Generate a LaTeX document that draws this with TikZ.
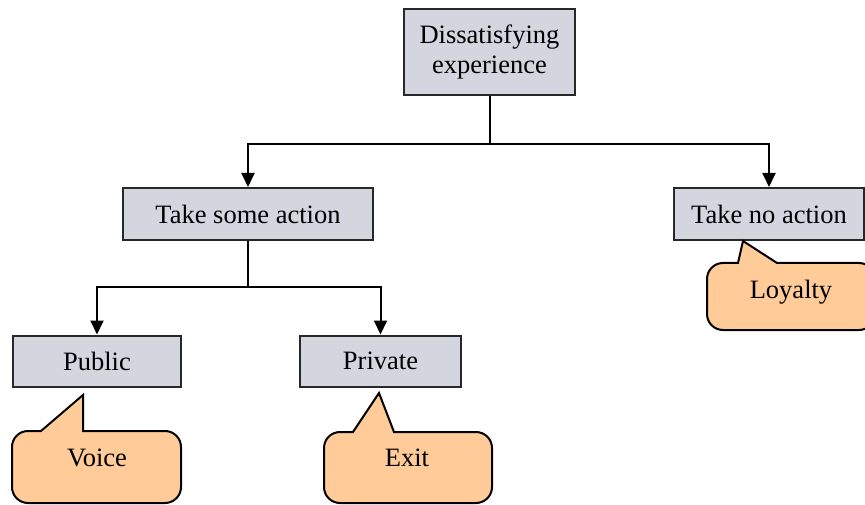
\documentclass[tikz,border=0pt]{standalone}
\usepackage{fontspec}
\setmainfont{Liberation Serif}
\usetikzlibrary{arrows.meta}
\definecolor{boxfill}{RGB}{211,213,223}
\definecolor{boxline}{RGB}{40,40,40}
\definecolor{bubble}{RGB}{255,204,153}
\tikzset{
  stage/.style={draw=boxline, line width=2pt, fill=boxfill, inner sep=0pt,
    align=center, font=\fontsize{26.5}{30}\selectfont},
  link/.style={line width=2pt, draw=black},
  linkarrow/.style={link, -{Triangle[length=14pt,width=13pt]}},
  callout/.style={draw=black, line width=2pt, fill=bubble, line join=miter},
  calltext/.style={inner sep=0pt, font=\fontsize{26.5}{30}\selectfont}
}
\begin{document}
\begin{tikzpicture}[x=1pt,y=-1pt]
\useasboundingbox (0,0) rectangle (865,505);
\clip (0,0) rectangle (865,505);

% decision boxes
\node[stage, minimum width=171pt, minimum height=86pt] (dis) at (489.5,52) {Dissatisfying\\experience};
\node[stage, minimum width=250pt, minimum height=52pt] (some) at (248,214) {Take some action};
\node[stage, minimum width=190pt, minimum height=52pt] (none) at (769,214) {Take no action};
\node[stage, minimum width=168pt, minimum height=51pt] (pub) at (97,361) {Public};
\node[stage, minimum width=161pt, minimum height=51pt] (priv) at (380.5,361) {Private};

% connectors
\coordinate (j1) at (489.5,144);
\coordinate (j2) at (248,287);
\draw[link] (dis.south) -- (j1);
\draw[linkarrow] (j1) -| (some.north);
\draw[linkarrow] (j1) -| (none.north);
\draw[link] (some.south) -- (j2);
\draw[linkarrow] (j2) -| (pub.north);
\draw[linkarrow] (j2) -| (priv.north);

% speech bubbles: body with rounded corners (radius 16), sharp pointer
\draw[callout] (100,431) -- (165,431) arc[start angle=-90, end angle=0, radius=16]
  -- (181,487) arc[start angle=0, end angle=90, radius=16]
  -- (28,503) arc[start angle=90, end angle=180, radius=16]
  -- (12,447) arc[start angle=180, end angle=270, radius=16]
  -- (41,431) -- (83,395) -- (83,431) -- cycle;
\node[calltext] (voice) at (97,458) {Voice};

\draw[callout] (410,432) -- (476,432) arc[start angle=-90, end angle=0, radius=16]
  -- (492,487) arc[start angle=0, end angle=90, radius=16]
  -- (340,503) arc[start angle=90, end angle=180, radius=16]
  -- (324,448) arc[start angle=180, end angle=270, radius=16]
  -- (353,432) -- (379,393) -- (394,432) -- cycle;
\node[calltext] (exit) at (407,458) {Exit};

\draw[callout] (790,263) -- (859,263) arc[start angle=-90, end angle=0, radius=16]
  -- (875,314) arc[start angle=0, end angle=90, radius=16]
  -- (723,330) arc[start angle=90, end angle=180, radius=16]
  -- (707,279) arc[start angle=180, end angle=270, radius=16]
  -- (738,263) -- (743,241) -- (777,263) -- cycle;
\node[calltext] (loyal) at (791,292) {Loyalty};
\end{tikzpicture}
\end{document}
